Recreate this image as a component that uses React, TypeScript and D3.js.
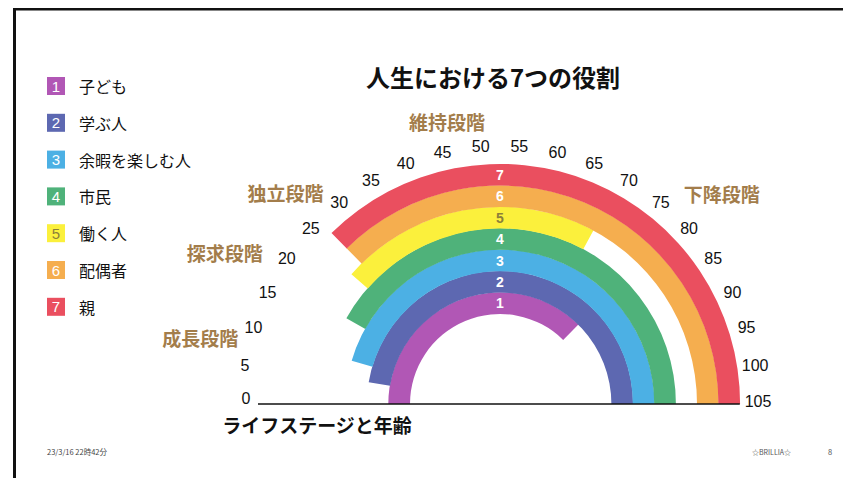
import React from "react";
import * as d3 from "d3";

const roles = ["子ども", "学ぶ人", "余暇を楽しむ人", "市民", "働く人", "配偶者", "親"];
const roleStart = [0, 5.5, 9.5, 17, 24, 26.5, 26.5];
const roleEnd = [78.5, 105, 105, 105, 69, 105, 105];
const roleColors = ["#b157b5", "#5d68b1", "#4cb0e4", "#4fb27a", "#fbf03c", "#f5ae4f", "#ea4f5f"];
const ageTicks = d3.range(0, 106, 5);
const stages = ["成長段階", "探求段階", "独立段階", "維持段階", "下降段階"];
const stageAges = [7.3, 16.8, 26, 46.3, 79.6];

const W = 843;
const H = 478;
const CX = 500;
const CY = 404;
const R0 = 90;
const BAND = 21.4;
const LABEL_R = 258;
const stageRadii = [307, 314, 301, 287, 306];

const LATIN = "'Liberation Sans', Arial, 'Noto Sans CJK JP', sans-serif";
const CJK = "'Noto Sans CJK JP', 'Noto Sans', sans-serif";

export default function App() {
  const angle = d3.scaleLinear().domain([0, 105]).range([-Math.PI / 2, Math.PI / 2]);
  const arc = d3.arc<any>();
  const polar = (age: number, r: number) => {
    const a = angle(age);
    return [CX + r * Math.sin(a), CY - r * Math.cos(a)];
  };
  const outerR = R0 + BAND * roles.length;

  return (
    <svg
      width={W}
      height={H}
      style={{ position: "absolute", left: 0, top: 0, background: "#fff" }}
    >
      <rect x={0} y={0} width={W} height={H} fill="#fff" />
      {/* frame */}
      <line x1={13} y1={9.3} x2={W} y2={9.3} stroke="#111" strokeWidth={2.6} />
      <line x1={14.5} y1={8} x2={14.5} y2={H} stroke="#111" strokeWidth={3} />

      {/* title */}
      <text x={493} y={87} textAnchor="middle" fontFamily={CJK} fontWeight={700} fontSize={24} fill="#111">
        人生における7つの役割
      </text>

      {/* rainbow bands */}
      <g transform={`translate(${CX},${CY})`}>
        {roles.map((r, i) => (
          <path
            key={r}
            d={arc({
              innerRadius: R0 + BAND * i,
              outerRadius: R0 + BAND * (i + 1) + 0.3,
              startAngle: angle(roleStart[i]),
              endAngle: angle(roleEnd[i]),
            }) as string}
            fill={roleColors[i]}
          />
        ))}
        {roles.map((r, i) => (
          <text
            key={"n" + r}
            x={0}
            y={-(R0 + BAND * (i + 0.5))}
            textAnchor="middle"
            dominantBaseline="central"
            fontFamily={LATIN}
            fontWeight={700}
            fontSize={14}
            fill={i === 4 ? "#8c7f3a" : "#fff"}
          >
            {i + 1}
          </text>
        ))}
      </g>

      {/* baseline axis */}
      <line x1={258} y1={CY} x2={CX + outerR} y2={CY} stroke="#111" strokeWidth={1.5} />

      {/* age tick labels */}
      {ageTicks.map((t) => {
        const [x, y] = polar(t, LABEL_R);
        return (
          <text
            key={t}
            x={t === 0 ? x + 4 : x}
            y={t === 0 ? y - 6 : t === 105 ? y - 3 : y}
            textAnchor="middle"
            dominantBaseline="central"
            fontFamily={LATIN}
            fontSize={16}
            fill="#111"
          >
            {t}
          </text>
        );
      })}

      {/* stage labels */}
      {stages.map((s, i) => {
        const [x, y] = polar(stageAges[i], stageRadii[i]);
        return (
          <text
            key={s}
            x={x}
            y={y}
            textAnchor="middle"
            dominantBaseline="central"
            fontFamily={CJK}
            fontWeight={700}
            fontSize={19}
            fill="#a37d4b"
          >
            {s}
          </text>
        );
      })}

      {/* x title */}
      <text x={317} y={433} textAnchor="middle" fontFamily={CJK} fontWeight={700} fontSize={19} fill="#111">
        ライフステージと年齢
      </text>

      {/* legend */}
      {roles.map((r, i) => {
        const y = 86 + i * 36.8;
        return (
          <g key={"lg" + r}>
            <rect x={47} y={y - 9} width={18} height={18} fill={roleColors[i]} />
            <text
              x={56}
              y={y}
              textAnchor="middle"
              dominantBaseline="central"
              fontFamily={LATIN}
              fontSize={15}
              fill={i === 4 ? "#8c7f3a" : "#fff"}
            >
              {i + 1}
            </text>
            <text x={79} y={y} dominantBaseline="central" fontFamily={CJK} fontSize={16} fill="#111">
              {r}
            </text>
          </g>
        );
      })}

      {/* footer */}
      <text x={47} y={455} fontFamily={CJK} fontSize={7.5} fill="#444">
        23/3/16 22時42分
      </text>
      <text x={752} y={455} fontFamily={CJK} fontSize={7} fill="#555">
        ☆BRILLIA☆
      </text>
      <text x={828} y={455} fontFamily={CJK} fontSize={7.5} fill="#555">
        8
      </text>
    </svg>
  );
}
